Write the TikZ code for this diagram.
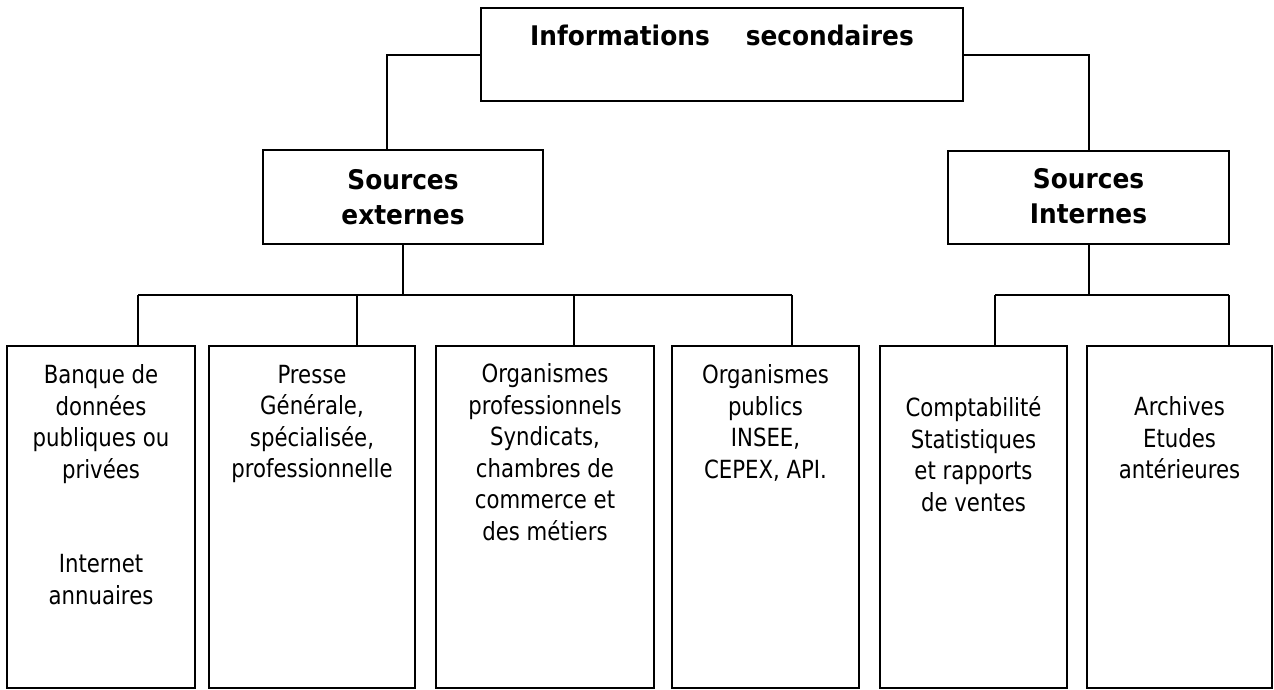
\documentclass[tikz,border=0pt]{standalone}
\usepackage{fontspec}
\setmainfont{DejaVu Sans}
\newfontfamily\regfont{DejaVu Sans}[FakeStretch=0.85]
\newfontfamily\hdfont{DejaVu Sans}[FakeStretch=0.92]
\begin{document}
\begin{tikzpicture}[x=1pt,y=-1pt,
  boxshape/.style={draw, line width=2pt, inner sep=0pt, rectangle},
  wire/.style={line width=2pt},
  reg/.style={align=center, inner sep=0pt, anchor=north,
    font=\regfont\fontsize{25pt}{31.5pt}\selectfont, execute at begin node=\strut},
  hd/.style={align=center, inner sep=0pt, anchor=north,
    font=\hdfont\bfseries\fontsize{27pt}{35pt}\selectfont, execute at begin node=\strut}]
\useasboundingbox (0,0) rectangle (1274,689);
% boxes
\node[boxshape, minimum width=482pt, minimum height=93pt] (top) at (722,54.5) {};
\node[boxshape, minimum width=280pt, minimum height=94pt] (se) at (403,197) {};
\node[boxshape, minimum width=281pt, minimum height=93pt] (si) at (1088.5,197.5) {};
\node[boxshape, minimum width=188pt, minimum height=342pt] (b1) at (101,517) {};
\node[boxshape, minimum width=206pt, minimum height=342pt] (b2) at (312,517) {};
\node[boxshape, minimum width=218pt, minimum height=342pt] (b3) at (545,517) {};
\node[boxshape, minimum width=187pt, minimum height=342pt] (b4) at (765.5,517) {};
\node[boxshape, minimum width=187pt, minimum height=342pt] (b5) at (973.5,517) {};
\node[boxshape, minimum width=185pt, minimum height=342pt] (b6) at (1179.5,517) {};
% texts
\node[hd] (t0) at (722,20.9) {Informations\hspace{36pt}secondaires};
\node[hd] (tse) at (403,169.4) {Sources\\externes};
\node[hd] (tsi) at (1088.5,168.4) {Sources\\Internes};
\node[reg] (t1) at (101,364.6) {Banque de\\données\\publiques ou\\privées\\[63pt]Internet\\annuaires};
\node[reg] (t2) at (312,364.6) {Presse\\Générale,\\spécialisée,\\professionnelle};
\node[reg] (t3) at (545,363.6) {Organismes\\professionnels\\Syndicats,\\chambres de\\commerce et\\des métiers};
\node[reg] (t4) at (765.5,364.6) {Organismes\\publics\\INSEE,\\CEPEX, API.};
\node[reg] (t5) at (973.5,396.6) {Comptabilité\\Statistiques\\et rapports\\de ventes};
\node[reg] (t6) at (1179.5,396.6) {Archives\\Etudes\\antérieures};
% connectors from top
\coordinate (sel) at (387,150);
\draw[wire] (top.west) -| (sel);
\draw[wire] (top.east) -| (si.north);
% left bus
\coordinate (j1) at (138,295);
\coordinate (j2) at (357,295);
\coordinate (j3) at (574,295);
\coordinate (j4) at (792,295);
\draw[wire] (se.south) -- (se.south |- j1);
\draw[wire] (j1) -- (j4);
\draw[wire] (j1) -- (j1 |- b1.north);
\draw[wire] (j2) -- (j2 |- b2.north);
\draw[wire] (j3) -- (j3 |- b3.north);
\draw[wire] (j4) -- (j4 |- b4.north);
% right bus
\coordinate (k1) at (995,295);
\coordinate (k2) at (1229,295);
\draw[wire] (si.south) -- (si.south |- k1);
\draw[wire] (k1) -- (k2);
\draw[wire] (k1) -- (k1 |- b5.north);
\draw[wire] (k2) -- (k2 |- b6.north);
\end{tikzpicture}
\end{document}
